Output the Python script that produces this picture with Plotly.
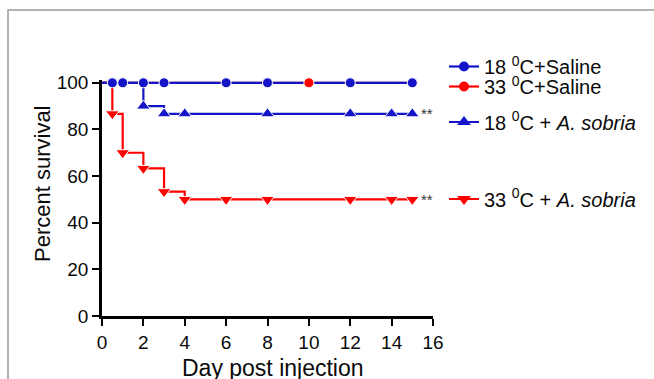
import plotly.graph_objects as go

# ---- data ----
sal18_days = [0, 0.5, 1, 2, 3, 6, 8, 12, 15]
sal18_surv = [100, 100, 100, 100, 100, 100, 100, 100, 100]
sal18_mark = [0, 1, 1, 1, 1, 1, 1, 1, 1]

sal33_days = [0, 10, 15]
sal33_surv = [100, 100, 100]
sal33_mark = [0, 1, 0]

sob18_days = [0, 2, 3, 4, 8, 12, 14, 15]
sob18_surv = [100, 90, 86.7, 86.7, 86.7, 86.7, 86.7, 86.7]
sob18_mark = [0, 1, 1, 1, 1, 1, 1, 1]

sob33_days = [0, 0.5, 1, 2, 3, 4, 6, 8, 12, 14, 15]
sob33_surv = [100, 86.7, 70, 63.3, 53.3, 50, 50, 50, 50, 50, 50]
sob33_mark = [0, 1, 1, 1, 1, 1, 1, 1, 1, 1, 1]

names = ["18 <sup>0</sup>C+Saline", "33 <sup>0</sup>C+Saline",
         "18 <sup>0</sup>C + <i>A. sobria</i>", "33 <sup>0</sup>C + <i>A. sobria</i>"]
x_ticks = [0, 2, 4, 6, 8, 10, 12, 14, 16]
y_ticks = [0, 20, 40, 60, 80, 100]
sig_label = "**"

BLUE = "#1414c8"
RED = "#ff0000"
FONT = "Liberation Sans, Arial, Helvetica, sans-serif"
TXT = "#0a0a0a"

fig = go.Figure()


def sizes(flags, s):
    return [s * f for f in flags]


# A. sobria series (drawn underneath)
fig.add_trace(go.Scatter(x=sob33_days, y=sob33_surv, mode="lines+markers",
                         line=dict(color=RED, width=2.2, shape="hv"),
                         marker=dict(symbol="triangle-down", color=RED, opacity=1,
                                     size=sizes(sob33_mark, 12)),
                         showlegend=False, cliponaxis=False))
fig.add_trace(go.Scatter(x=sob18_days, y=sob18_surv, mode="lines+markers",
                         line=dict(color=BLUE, width=2.2, shape="hv"),
                         marker=dict(symbol="triangle-up", color=BLUE, opacity=1,
                                     size=sizes(sob18_mark, 12)),
                         showlegend=False, cliponaxis=False))
# saline 33 line (under blue)
fig.add_trace(go.Scatter(x=sal33_days, y=sal33_surv, mode="lines",
                         line=dict(color=RED, width=2.2, shape="hv"),
                         showlegend=False, cliponaxis=False))
# saline 18
fig.add_trace(go.Scatter(x=sal18_days, y=sal18_surv, mode="lines+markers",
                         line=dict(color=BLUE, width=2.2, shape="hv"),
                         marker=dict(symbol="circle", color=BLUE, opacity=1,
                                     size=sizes(sal18_mark, 10)),
                         showlegend=False, cliponaxis=False))
# saline 33 markers on top
fig.add_trace(go.Scatter(x=sal33_days, y=sal33_surv, mode="markers",
                         marker=dict(symbol="circle", color=RED, opacity=1,
                                     size=sizes(sal33_mark, 10)),
                         showlegend=False, cliponaxis=False))

# legend entries (one legend each, to match the spacing)
leg_specs = [
    (names[0], BLUE, "circle", 10, "legend"),
    (names[1], RED, "circle", 10, "legend2"),
    (names[2], BLUE, "triangle-up", 12, "legend3"),
    (names[3], RED, "triangle-down", 12, "legend4"),
]
for nm, col, sym, sz, lg in leg_specs:
    fig.add_trace(go.Scatter(x=[None], y=[None], mode="lines+markers", name=nm,
                             line=dict(color=col, width=2.2),
                             marker=dict(symbol=sym, color=col, size=sz),
                             legend=lg, showlegend=True))

# plot area: x 102..433 px, y (100 -> 83 px, 0 -> 316 px)
Y_TOP = 101.2
L, R, T, B = 102, 221, 80, 63
W, H = 654, 379
pw, ph = W - L - R, H - T - B


def px_x(p):
    return (p - L) / pw


def px_y(p):
    return (H - B - p) / ph


leg_common = dict(font=dict(family=FONT, size=20, color=TXT), bgcolor="rgba(0,0,0,0)",
                  xanchor="left", yanchor="middle", tracegroupgap=0, itemwidth=30)
lx = px_x(444)
fig.update_layout(
    legend=dict(x=lx, y=px_y(66.5), **leg_common),
    legend2=dict(x=lx, y=px_y(86.5), **leg_common),
    legend3=dict(x=lx, y=px_y(122), **leg_common),
    legend4=dict(x=lx, y=px_y(199), **leg_common),
)

axis_common = dict(showgrid=False, zeroline=False, showline=True, linecolor="black", linewidth=2.5,
                   ticks="outside", tickcolor="black", tickwidth=2, ticklen=7, automargin=False,
                   tickfont=dict(family=FONT, size=19, color=TXT))
fig.update_xaxes(range=[0, 16], tickvals=x_ticks, **axis_common)
fig.update_yaxes(range=[0, Y_TOP], tickvals=y_ticks, **axis_common)

fig.add_annotation(text="Percent survival", xref="paper", yref="paper", x=px_x(42), y=px_y(184),
                   textangle=-90, showarrow=False, xanchor="center", yanchor="middle",
                   font=dict(family=FONT, size=22, color=TXT))
fig.add_annotation(text="Day post injection", xref="paper", yref="paper", x=px_x(273), y=px_y(368),
                   showarrow=False, xanchor="center", yanchor="middle",
                   font=dict(family=FONT, size=23, color=TXT))
for yv in (sob18_surv[-1], sob33_surv[-1]):
    fig.add_annotation(text=sig_label, x=sob18_days[-1] + 0.3, y=yv, xref="x", yref="y",
                       showarrow=False, xanchor="left", yanchor="middle", yshift=0,
                       font=dict(family=FONT, size=15, color="#333"))

fig.add_shape(type="rect", xref="paper", yref="paper", x0=px_x(8), y0=px_y(400), x1=px_x(700),
              y1=px_y(10), line=dict(color="#999", width=1.5), fillcolor="rgba(0,0,0,0)", layer="below")

fig.update_layout(width=W, height=H, margin=dict(l=L, r=R, t=T, b=B, autoexpand=False),
                  plot_bgcolor="white", paper_bgcolor="white",
                  font=dict(family=FONT))
fig.write_html("out.html", config={"displayModeBar": False},
               post_script="document.body.style.margin='0';document.body.style.padding='0';")
